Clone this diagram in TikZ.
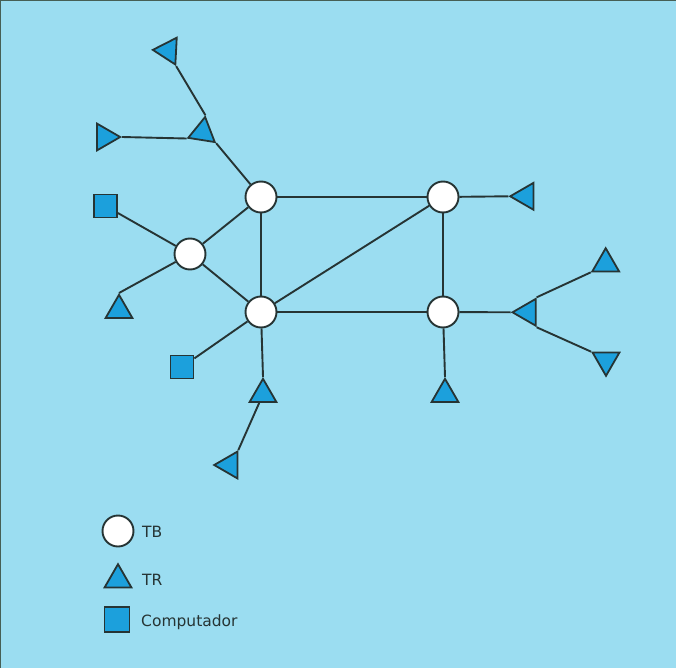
\documentclass[tikz,border=0pt]{standalone}
\usepackage{fontspec}
\setmainfont{DejaVu Sans}
\usetikzlibrary{shapes.geometric}
\definecolor{bgblue}{RGB}{155,221,241}
\definecolor{nodeblue}{RGB}{28,160,220}
\definecolor{lineclr}{RGB}{38,52,52}
\definecolor{frameclr}{RGB}{70,95,85}
\tikzset{
  tb/.style={circle,draw=lineclr,fill=white,line width=1.9pt,minimum size=31pt,inner sep=0pt},
  tr/.style={regular polygon,regular polygon sides=3,draw=lineclr,fill=nodeblue,line width=1.8pt,minimum size=31pt,inner sep=0pt},
  pc/.style={rectangle,draw=lineclr,fill=nodeblue,line width=1.8pt,minimum size=23pt,inner sep=0pt},
  link/.style={draw=lineclr,line width=1.9pt},
  lbl/.style={font=\fontsize{15.5}{18}\selectfont,text=lineclr,inner sep=0pt,anchor=base west}
}
\begin{document}
\begin{tikzpicture}[x=1pt,y=-1pt]
\useasboundingbox (0,0) rectangle (676,668);
\fill[bgblue] (0,0) rectangle (676,668);
\draw[frameclr,line width=2.5pt] (0,668) -- (0,0) -- (676,0);
% backbone nodes
\node[tb] (A) at (261,197) {};
\node[tb] (B) at (443,197) {};
\node[tb] (C) at (190,254) {};
\node[tb] (D) at (261,312) {};
\node[tb] (E) at (443,312) {};
% terminals
\node[tr,shape border rotate=-33] (T1) at (168.3,50.7) {};
\node[tr,shape border rotate=-9] (T2) at (202.7,132.3) {};
\node[tr,shape border rotate=-90] (T3) at (104.7,137) {};
\node[tr] (T4) at (119,310.3) {};
\node[tr,shape border rotate=90] (T5) at (525.7,196.3) {};
\node[tr,shape border rotate=90] (T6) at (528,312.3) {};
\node[tr] (T7) at (605.7,263.7) {};
\node[tr,shape border rotate=180] (T8) at (606,360.3) {};
\node[tr] (T9) at (263,394.3) {};
\node[tr,shape border rotate=90] (T10) at (229.7,465) {};
\node[tr] (T11) at (445,394.3) {};
\node[pc] (S1) at (105.5,206) {};
\node[pc] (S2) at (182,367) {};
% links
\path[link] (A) -- (B);
\path[link] (A) -- (D);
\path[link] (A) -- (C);
\path[link] (C) -- (D);
\path[link] (B) -- (E);
\path[link] (D) -- (E);
\path[link] (D) -- (B);
\path[link] (A) -- (T2.321);
\path[link] (T2.81) -- (T1.297);
\path[link] (T2.201) -- (T3.0);
\path[link] (C) -- (S1);
\path[link] (C) -- (T4.90);
\path[link] (D) -- (S2);
\path[link] (D) -- (T9.90);
\path[link] (T9) -- (T10.60);
\path[link] (B) -- (T5.180);
\path[link] (E) -- (T6.180);
\path[link] (T6.60) -- (T7.210);
\path[link] (T6.300) -- (T8.150);
\path[link] (E) -- (T11.90);
% legend
\node[tb] (LTB) at (118,531) {};
\node[lbl] (LTBt) at (142,537) {TB};
\node[tr] (LTR) at (118,579.7) {};
\node[lbl] (LTRt) at (142,585) {TR};
\node[pc,minimum size=25pt] (LPC) at (117,619.5) {};
\node[lbl] (LPCt) at (141,626) {Computador};
\end{tikzpicture}
\end{document}
